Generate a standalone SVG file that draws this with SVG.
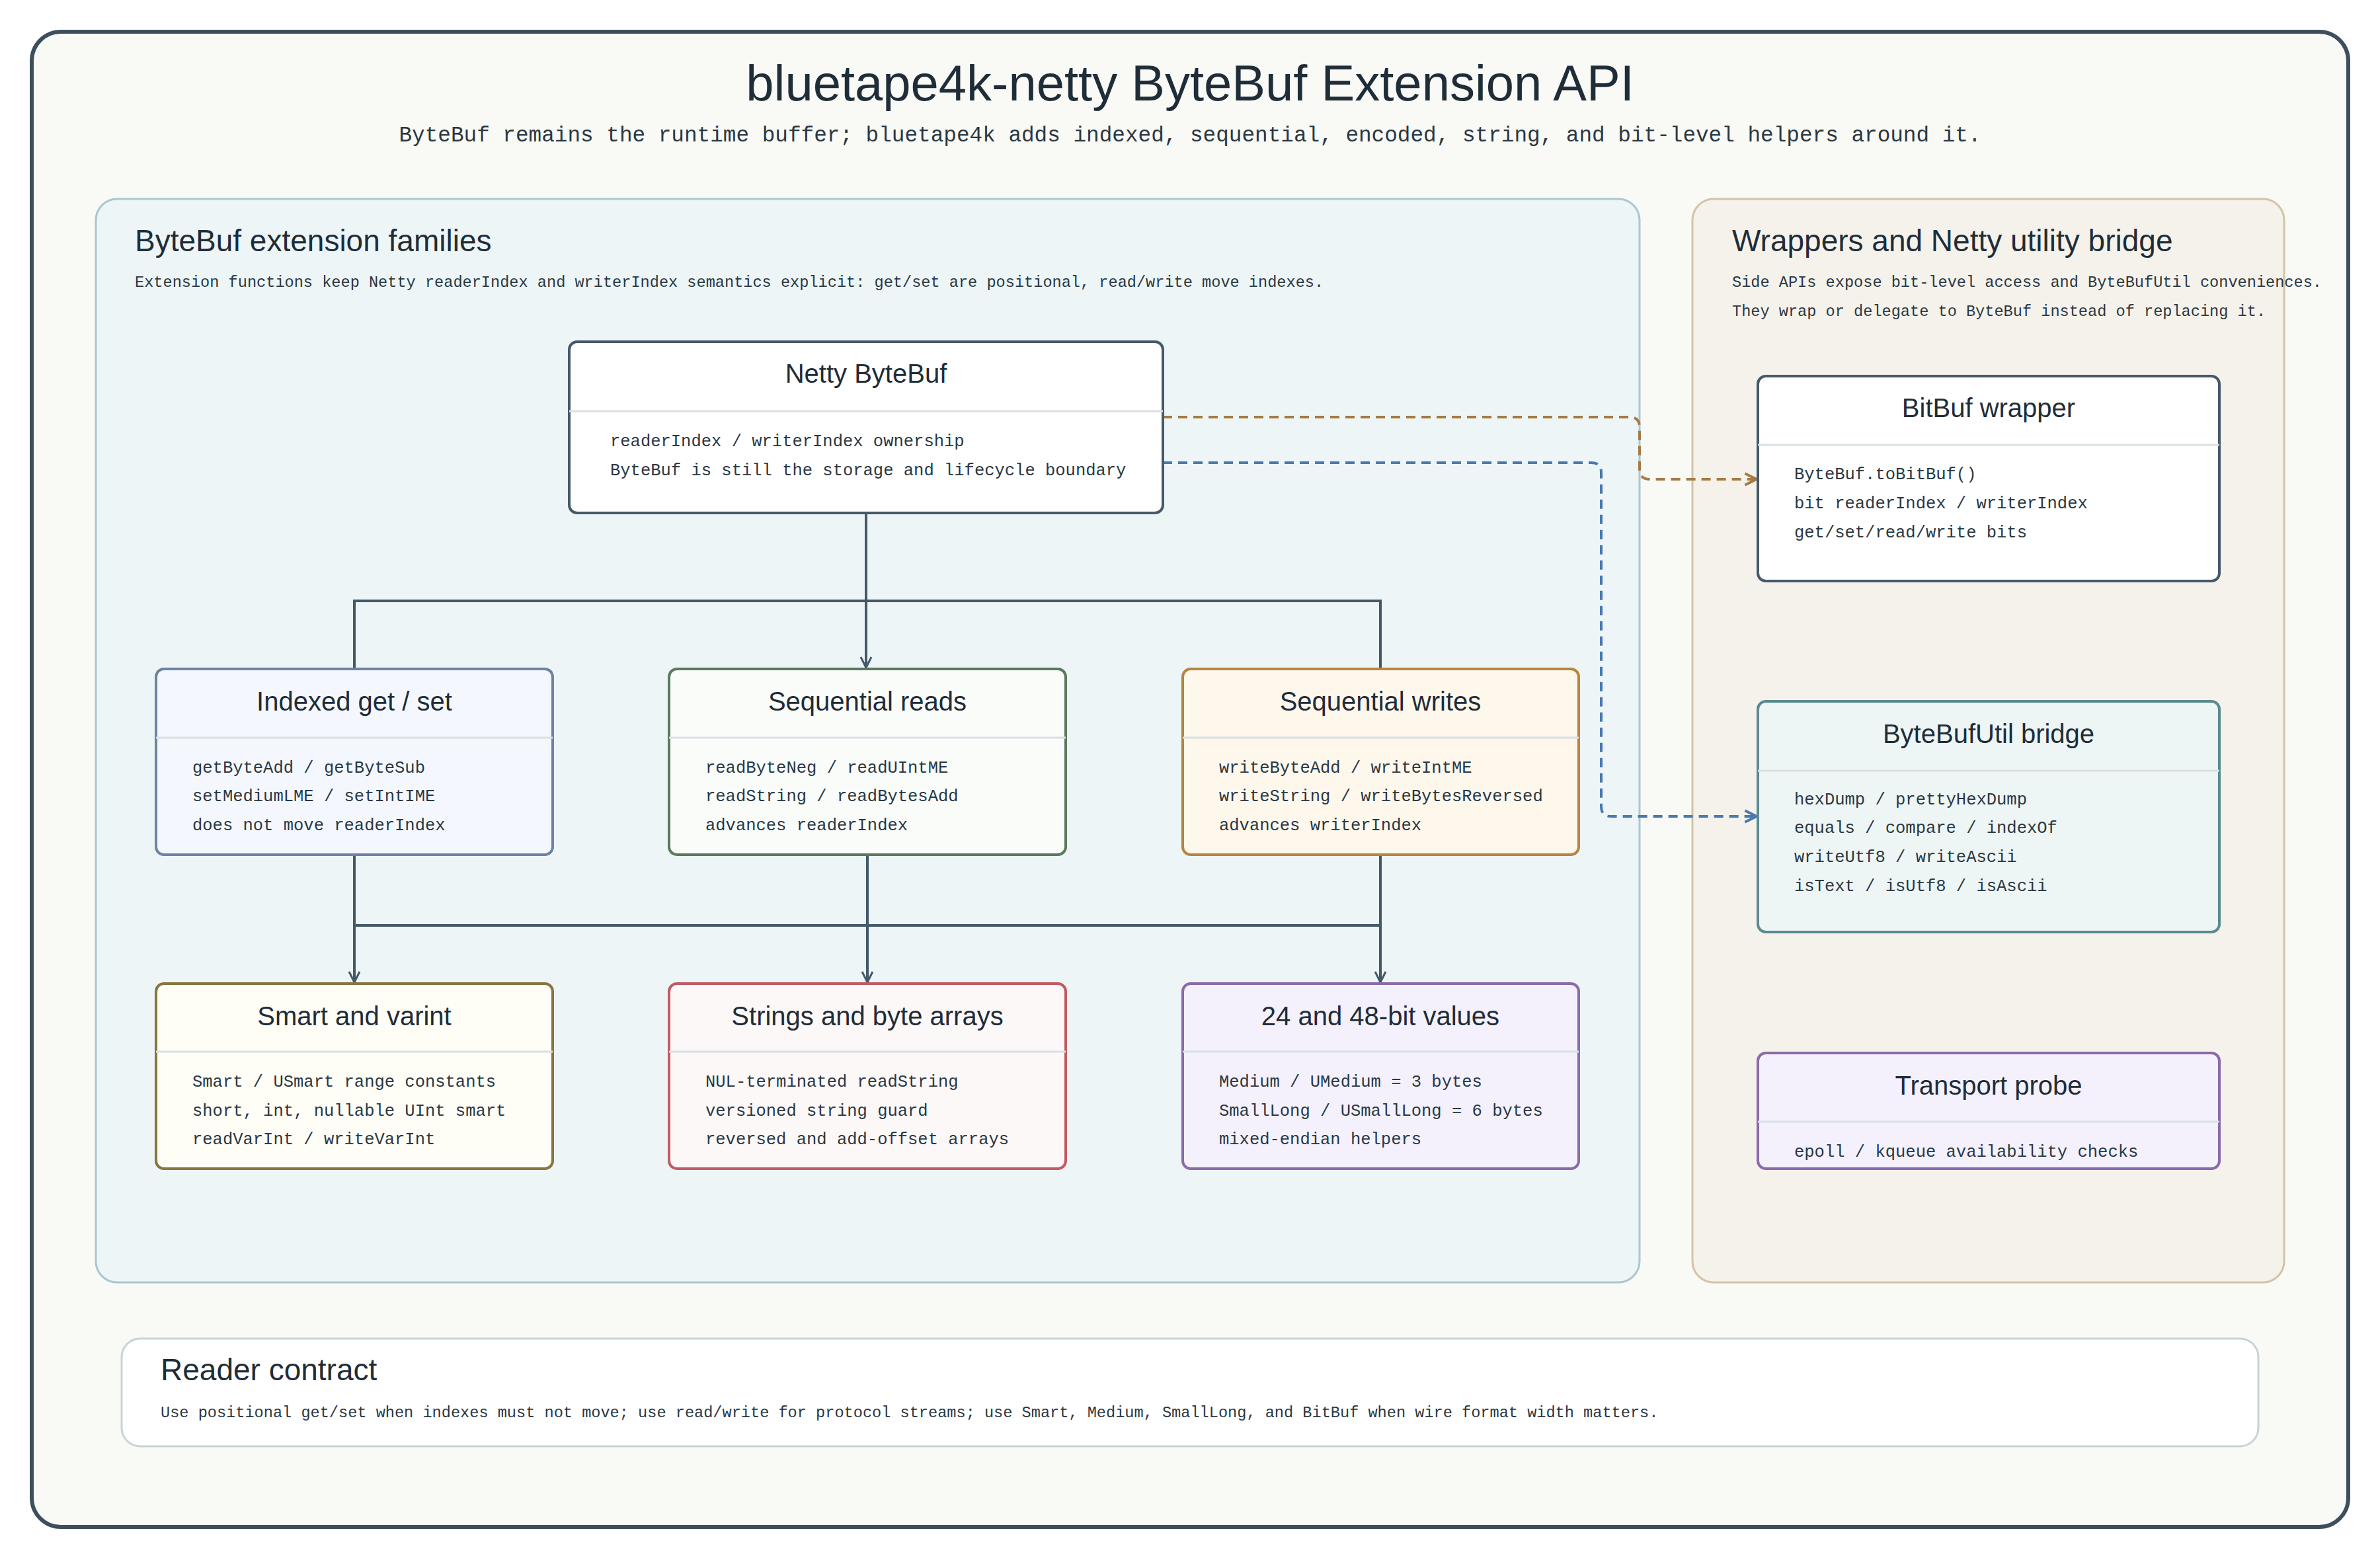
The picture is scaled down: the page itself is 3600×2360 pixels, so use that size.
<svg xmlns="http://www.w3.org/2000/svg" width="3600" height="2360" viewBox="0 0 3600 2360">
<defs>
<style>
.h{font-family:"Liberation Sans","DejaVu Sans",sans-serif;fill:#1f2d38}
.m{font-family:"Liberation Mono","DejaVu Sans Mono",monospace;fill:#2a3843}
.box{stroke-width:4}
.div{stroke:#d8e0e4;stroke-width:3}
.c{fill:none;stroke:#44596a;stroke-width:4}
</style>
<marker id="a" viewBox="0 0 20 20" refX="18" refY="10" markerWidth="20" markerHeight="20" markerUnits="userSpaceOnUse" orient="auto"><path d="M2 2L18 10L2 18" fill="none" stroke="#44596a" stroke-width="3"/></marker>
<marker id="ab" viewBox="0 0 20 20" refX="18" refY="10" markerWidth="22" markerHeight="22" markerUnits="userSpaceOnUse" orient="auto"><path d="M2 2L18 10L2 18" fill="none" stroke="#a57a45" stroke-width="3.5"/></marker>
<marker id="al" viewBox="0 0 20 20" refX="18" refY="10" markerWidth="22" markerHeight="22" markerUnits="userSpaceOnUse" orient="auto"><path d="M2 2L18 10L2 18" fill="none" stroke="#4a78b0" stroke-width="3.5"/></marker>
</defs>
<rect x="0" y="0" width="3600" height="2360" fill="#ffffff"/>
<rect x="48" y="48" width="3504" height="2262" rx="44" fill="#f9f9f5" stroke="#3d4f5c" stroke-width="6"/>
<text class="h" x="1800" y="152" font-size="76" text-anchor="middle">bluetape4k-netty ByteBuf Extension API</text>
<text class="m" x="1800" y="214" font-size="32.7" text-anchor="middle">ByteBuf remains the runtime buffer; bluetape4k adds indexed, sequential, encoded, string, and bit-level helpers around it.</text>

<g id="panel-left">
<rect x="145" y="301" width="2335" height="1639" rx="32" fill="#edf5f6" stroke="#a9c7d0" stroke-width="3"/>
<text class="h" x="204" y="380" font-size="46">ByteBuf extension families</text>
<text class="m" x="204" y="434" font-size="23.6">Extension functions keep Netty readerIndex and writerIndex semantics explicit: get/set are positional, read/write move indexes.</text>
</g>
<g id="panel-right">
<rect x="2560" y="301" width="895" height="1639" rx="32" fill="#f5f2eb" stroke="#d3c4a6" stroke-width="3"/>
<text class="h" x="2620" y="380" font-size="46">Wrappers and Netty utility bridge</text>
<text class="m" x="2620" y="434" font-size="23.6">Side APIs expose bit-level access and ByteBufUtil conveniences.</text>
<text class="m" x="2620" y="478" font-size="23.6">They wrap or delegate to ByteBuf instead of replacing it.</text>
</g>

<g id="connectors">
<path class="c" d="M1310 776V1010" marker-end="url(#a)"/>
<path class="c" d="M536 1012V909H2088V1012"/>
<path class="c" d="M536 1293V1486" marker-end="url(#a)"/>
<path class="c" d="M1312 1293V1486" marker-end="url(#a)"/>
<path class="c" d="M2088 1293V1486" marker-end="url(#a)"/>
<path class="c" d="M536 1400H2088"/>
<path d="M1759 631H2465Q2480 631 2480 646V710Q2480 725 2495 725H2657" fill="none" stroke="#a57a45" stroke-width="4" stroke-dasharray="14 9" marker-end="url(#ab)"/>
<path d="M1759 700H2407Q2422 700 2422 715V1220Q2422 1235 2437 1235H2657" fill="none" stroke="#4a78b0" stroke-width="4" stroke-dasharray="14 9" marker-end="url(#al)"/>
</g>

<g id="netty">
<rect class="box" x="861" y="517" width="898" height="259" rx="12" fill="#ffffff" stroke="#44596a"/>
<line class="div" x1="861" y1="622" x2="1759" y2="622"/>
<text class="h" x="1310" y="579" font-size="40" text-anchor="middle">Netty ByteBuf</text>
<text class="m" x="923" y="675" font-size="25.5">readerIndex / writerIndex ownership</text>
<text class="m" x="923" y="719" font-size="25.5">ByteBuf is still the storage and lifecycle boundary</text>
</g>

<g id="indexed">
<rect class="box" x="236" y="1012" width="600" height="281" rx="12" fill="#f4f8fe" stroke="#6c83a6"/>
<line class="div" x1="236" y1="1116" x2="836" y2="1116"/>
<text class="h" x="536" y="1075" font-size="40" text-anchor="middle">Indexed get / set</text>
<text class="m" x="291" y="1169" font-size="25.5">getByteAdd / getByteSub</text>
<text class="m" x="291" y="1212" font-size="25.5">setMediumLME / setIntIME</text>
<text class="m" x="291" y="1256" font-size="25.5">does not move readerIndex</text>
</g>
<g id="seqreads">
<rect class="box" x="1012" y="1012" width="600" height="281" rx="12" fill="#fafcfa" stroke="#5a7a5e"/>
<line class="div" x1="1012" y1="1116" x2="1612" y2="1116"/>
<text class="h" x="1312" y="1075" font-size="40" text-anchor="middle">Sequential reads</text>
<text class="m" x="1067" y="1169" font-size="25.5">readByteNeg / readUIntME</text>
<text class="m" x="1067" y="1212" font-size="25.5">readString / readBytesAdd</text>
<text class="m" x="1067" y="1256" font-size="25.5">advances readerIndex</text>
</g>
<g id="seqwrites">
<rect class="box" x="1789" y="1012" width="599" height="281" rx="12" fill="#fdf7ec" stroke="#b8843f"/>
<line class="div" x1="1789" y1="1116" x2="2388" y2="1116"/>
<text class="h" x="2088" y="1075" font-size="40" text-anchor="middle">Sequential writes</text>
<text class="m" x="1844" y="1169" font-size="25.5">writeByteAdd / writeIntME</text>
<text class="m" x="1844" y="1212" font-size="25.5">writeString / writeBytesReversed</text>
<text class="m" x="1844" y="1256" font-size="25.5">advances writerIndex</text>
</g>

<g id="smart">
<rect class="box" x="236" y="1488" width="600" height="280" rx="12" fill="#fefdf6" stroke="#8a7440"/>
<line class="div" x1="236" y1="1591" x2="836" y2="1591"/>
<text class="h" x="536" y="1551" font-size="40" text-anchor="middle">Smart and varint</text>
<text class="m" x="291" y="1644" font-size="25.5">Smart / USmart range constants</text>
<text class="m" x="291" y="1688" font-size="25.5">short, int, nullable UInt smart</text>
<text class="m" x="291" y="1731" font-size="25.5">readVarInt / writeVarInt</text>
</g>
<g id="strings">
<rect class="box" x="1012" y="1488" width="600" height="280" rx="12" fill="#fdf8f8" stroke="#c05a64"/>
<line class="div" x1="1012" y1="1591" x2="1612" y2="1591"/>
<text class="h" x="1312" y="1551" font-size="40" text-anchor="middle">Strings and byte arrays</text>
<text class="m" x="1067" y="1644" font-size="25.5">NUL-terminated readString</text>
<text class="m" x="1067" y="1688" font-size="25.5">versioned string guard</text>
<text class="m" x="1067" y="1731" font-size="25.5">reversed and add-offset arrays</text>
</g>
<g id="bits">
<rect class="box" x="1789" y="1488" width="599" height="280" rx="12" fill="#f4f1fd" stroke="#8a6aaa"/>
<line class="div" x1="1789" y1="1591" x2="2388" y2="1591"/>
<text class="h" x="2088" y="1551" font-size="40" text-anchor="middle">24 and 48-bit values</text>
<text class="m" x="1844" y="1644" font-size="25.5">Medium / UMedium = 3 bytes</text>
<text class="m" x="1844" y="1688" font-size="25.5">SmallLong / USmallLong = 6 bytes</text>
<text class="m" x="1844" y="1731" font-size="25.5">mixed-endian helpers</text>
</g>

<g id="bitbuf">
<rect class="box" x="2659" y="569" width="698" height="310" rx="12" fill="#ffffff" stroke="#44596a"/>
<line class="div" x1="2659" y1="673" x2="3357" y2="673"/>
<text class="h" x="3008" y="631" font-size="40" text-anchor="middle">BitBuf wrapper</text>
<text class="m" x="2714" y="725" font-size="25.5">ByteBuf.toBitBuf()</text>
<text class="m" x="2714" y="769" font-size="25.5">bit readerIndex / writerIndex</text>
<text class="m" x="2714" y="813" font-size="25.5">get/set/read/write bits</text>
</g>
<g id="bytebufutil">
<rect class="box" x="2659" y="1061" width="698" height="349" rx="12" fill="#eef5f5" stroke="#5a8a90"/>
<line class="div" x1="2659" y1="1166" x2="3357" y2="1166"/>
<text class="h" x="3008" y="1124" font-size="40" text-anchor="middle">ByteBufUtil bridge</text>
<text class="m" x="2714" y="1217" font-size="25.5">hexDump / prettyHexDump</text>
<text class="m" x="2714" y="1260" font-size="25.5">equals / compare / indexOf</text>
<text class="m" x="2714" y="1304" font-size="25.5">writeUtf8 / writeAscii</text>
<text class="m" x="2714" y="1348" font-size="25.5">isText / isUtf8 / isAscii</text>
</g>
<g id="transport">
<rect class="box" x="2659" y="1593" width="698" height="175" rx="12" fill="#f4f1fd" stroke="#8a6aaa"/>
<line class="div" x1="2659" y1="1697" x2="3357" y2="1697"/>
<text class="h" x="3008" y="1656" font-size="40" text-anchor="middle">Transport probe</text>
<text class="m" x="2714" y="1750" font-size="25.5">epoll / kqueue availability checks</text>
</g>

<g id="contract">
<rect x="184" y="2025" width="3232" height="163" rx="28" fill="#ffffff" stroke="#c9d3d6" stroke-width="3"/>
<text class="h" x="243" y="2088" font-size="46">Reader contract</text>
<text class="m" x="243" y="2144" font-size="23.6">Use positional get/set when indexes must not move; use read/write for protocol streams; use Smart, Medium, SmallLong, and BitBuf when wire format width matters.</text>
</g>
</svg>
